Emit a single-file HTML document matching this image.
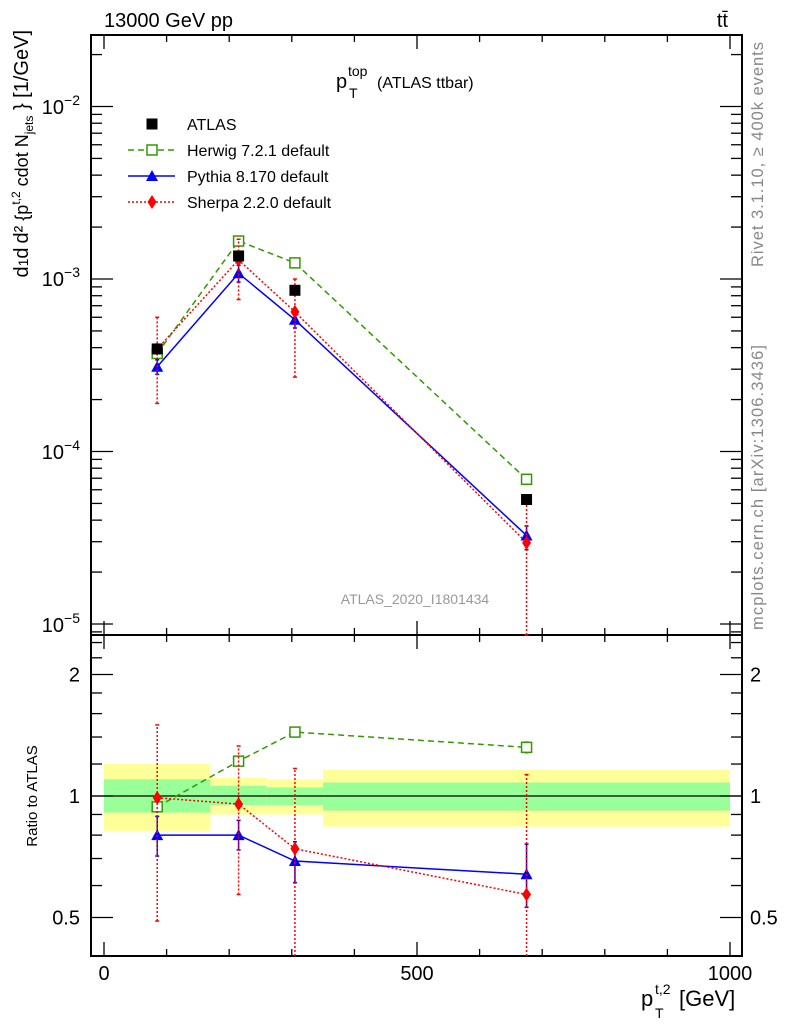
<!DOCTYPE html>
<html><head><meta charset="utf-8"><style>
body{margin:0;background:#fff;}
svg{display:block;font-family:"Liberation Sans",sans-serif;}
</style></head><body>
<svg id="c" width="786" height="1024" viewBox="0 0 786 1024">
</svg>
<script>
const xs=[85,215,305,675];
const binEdges=[0,170,260,350,1000];
const atlas=[3.93e-4,1.36e-3,8.6e-4,5.27e-5];
const herwig=[3.7e-4,1.66e-3,1.24e-3,6.9e-5];
const pythia=[3.1e-4,1.08e-3,5.8e-4,3.26e-5];
const sherpa=[3.93e-4,1.29e-3,6.45e-4,2.96e-5];
const sherpaLo=[1.9e-4,7.6e-4,2.7e-4,1e-6];
const sherpaHi=[6e-4,1.7e-3,1.0e-3,5.6e-5];
const pythiaLo=[2.8e-4,9.6e-4,5.2e-4,2.7e-5];
const pythiaHi=[3.4e-4,1.2e-3,6.4e-4,3.7e-5];
const rHerwig=[0.94,1.22,1.44,1.32];
const rPythia=[0.8,0.8,0.69,0.64];
const rSherpa=[0.99,0.955,0.74,0.57];
const rSherpaLo=[0.49,0.57,0.3,0.3];
const rSherpaHi=[1.5,1.33,1.17,1.13];
const rPythiaLo=[0.71,0.735,0.61,0.53];
const rPythiaHi=[0.89,0.87,0.77,0.76];
const rHerwigLo=[0.92,1.2,1.41,1.28];
const rHerwigHi=[0.96,1.24,1.47,1.36];
const yellowLo=[0.82,0.9,0.9,0.84];
const yellowHi=[1.2,1.11,1.1,1.16];
const greenLo=[0.91,0.95,0.95,0.92];
const greenHi=[1.1,1.06,1.05,1.08];
const xTicks=[0,500,1000];

const svg=document.getElementById('c');
const NS='http://www.w3.org/2000/svg';
function el(t,a,p){const e=document.createElementNS(NS,t);for(const k in a)e.setAttribute(k,a[k]);(p||svg).appendChild(e);return e;}
const L=91,R=742,T=35,M=635,B=956;
const X=v=>104+v*0.626;
const Y=v=>Math.min(M,Math.max(T,279-(Math.log10(v)+3)*172.5));
const YR=v=>Math.min(B,Math.max(M,796-Math.log2(v)*121.5));

for(let i=0;i<4;i++){
  const b=el('rect',{x:X(binEdges[i]),y:YR(yellowHi[i]),width:X(binEdges[i+1])-X(binEdges[i]),height:YR(yellowLo[i])-YR(yellowHi[i]),fill:'#ffff99'});
  
  
  const g=el('rect',{x:X(binEdges[i]),y:YR(greenHi[i]),width:X(binEdges[i+1])-X(binEdges[i]),height:YR(greenLo[i])-YR(greenHi[i]),fill:'#99ff99'});
  
  
}
el('line',{x1:L,x2:R,y1:YR(1),y2:YR(1),stroke:'#000','stroke-width':1.3});

el('rect',{x:L,y:T,width:R-L,height:M-T,fill:'none',stroke:'#000','stroke-width':2});
el('rect',{x:L,y:M,width:R-L,height:B-M,fill:'none',stroke:'#000','stroke-width':2});
for(let v=0;v<=1000;v+=100){const maj=v%500==0;const l=maj?14:7;
  for(const [y0,d] of [[M,-1],[T,1],[B,-1],[M,1]]) el('line',{x1:X(v),x2:X(v),y1:y0,y2:y0+d*l,stroke:'#000','stroke-width':1.3});}
for(let e=-6;e<=-2;e++){for(let m=1;m<10;m++){const v=m*Math.pow(10,e);const y=279-(Math.log10(v)+3)*172.5;if(y<T||y>M)continue;const l=m==1?22:11;
  el('line',{x1:L,x2:L+l,y1:y,y2:y,stroke:'#000','stroke-width':1.3});el('line',{x1:R,x2:R-l,y1:y,y2:y,stroke:'#000','stroke-width':1.3});}}
const rt=[0.5,0.6,0.7,0.8,0.9,1,1.2,1.4,1.6,1.8,2,2.2,2.4];
rt.forEach(v=>{const y=YR(v);const l=(v==0.5||v==1||v==2)?22:11;
  el('line',{x1:L,x2:L+l,y1:y,y2:y,stroke:'#000','stroke-width':1.3});el('line',{x1:R,x2:R-l,y1:y,y2:y,stroke:'#000','stroke-width':1.3});});

function txt(s,x,y,a,p){const t=el('text',Object.assign({x:x,y:y,'font-size':20},a||{}),p);t.textContent=s;return t;}
[[-2,107],[-3,279],[-4,452],[-5,625]].forEach(([e,y])=>{const t=el('text',{x:80,y:y+7,'font-size':20,'text-anchor':'end'});t.innerHTML='10<tspan dy="-9" font-size="14">−'+(-e)+'</tspan>';});
[[2,2],[1,1],[0.5,'0.5']].forEach(([v,s])=>{txt(String(s),80,YR(v)+7,{'text-anchor':'end'});txt(String(s),750,YR(v)+7);});
xTicks.forEach(v=>{const t=txt(String(v),X(v),980,{'text-anchor':'middle'});});

function series(vals,ys,color,dash,marker,lo,hi,name){
  const g=el('g',{});
  if(lo)for(let i=0;i<vals.length;i++){el('line',{x1:X(xs[i]),x2:X(xs[i]),y1:ys(lo[i]),y2:ys(hi[i]),stroke:color,'stroke-width':1.5,'stroke-dasharray':dash=='2,2'?'2,2':''},g);
    [lo[i],hi[i]].forEach(v=>{if(ys(v)>T+1&&ys(v)<B-1)el('line',{x1:X(xs[i])-2,x2:X(xs[i])+2,y1:ys(v),y2:ys(v),stroke:color,'stroke-width':1.5},g);});}
  if(dash!==null)el('polyline',{points:vals.map((v,i)=>X(xs[i])+','+ys(v)).join(' '),fill:'none',stroke:color,'stroke-width':1.5,'stroke-dasharray':dash},g);
  vals.forEach((v,i)=>mark(marker,X(xs[i]),ys(v),color,g));
}
function mark(m,x,y,c,g){
  if(m=='sq')el('rect',{x:x-5.5,y:y-5.5,width:11,height:11,fill:'#000'},g);
  if(m=='osq')el('rect',{x:x-5,y:y-5,width:10,height:10,fill:'#fff',stroke:c,'stroke-width':1.5},g);
  if(m=='tri')el('polygon',{points:`${x-6},${y+5} ${x+6},${y+5} ${x},${y-6}`,fill:c},g);
  if(m=='dia')el('polygon',{points:`${x},${y-7} ${x+4.5},${y} ${x},${y+7} ${x-4.5},${y}`,fill:c},g);
}
series(herwig,Y,'#339900','6,4','osq',null,null,'herwig-series');
series(pythia,Y,'#0000ff','','tri',pythiaLo,pythiaHi,'pythia-series');
series(sherpa,Y,'#ff0000','2,2','dia',sherpaLo,sherpaHi,'sherpa-series');
series(atlas,Y,'#000',null,'sq',null,null,'atlas-data');
series(rHerwig,YR,'#339900','6,4','osq',rHerwigLo,rHerwigHi,'herwig-ratio');
series(rPythia,YR,'#0000ff','','tri',rPythiaLo,rPythiaHi,'pythia-ratio');
series(rSherpa,YR,'#ff0000','2,2','dia',rSherpaLo,rSherpaHi,'sherpa-ratio');

const lg=el('g',{});
[['ATLAS','#000',null,'sq',124],['Herwig 7.2.1 default','#339900','6,4','osq',150],['Pythia 8.170 default','#0000ff','','tri',176],['Sherpa 2.2.0 default','#ff0000','2,2','dia',202]].forEach(([s,c,d,m,y])=>{
  if(d!==null)el('line',{x1:128,x2:175,y1:y,y2:y,stroke:c,'stroke-width':1.5,'stroke-dasharray':d},lg);
  mark(m,152,y,c,lg);txt(s,187,y+6,{'font-size':16},lg);});

txt('13000 GeV pp',104,27,{'font-size':20});
txt('tt̄',728,27,{'font-size':20,'text-anchor':'end'});
const tg=el('g',{});
txt('p',336,88,{'font-size':20},tg);txt('top',348,76,{'font-size':14},tg);txt('T',349,98,{'font-size':14},tg);
txt('(ATLAS ttbar)',377,88,{'font-size':16},tg);
txt('ATLAS_2020_I1801434',415,604,{'font-size':14,fill:'#999','text-anchor':'middle'});
txt('Rivet 3.1.10, ≥ 400k events',0,0,{'font-size':16.5,fill:'#888','textLength':225,'transform':'translate(763,267) rotate(-90)'});
txt('mcplots.cern.ch [arXiv:1306.3436]',0,0,{'font-size':16.5,fill:'#888','textLength':285,'transform':'translate(763,630) rotate(-90)'});
txt('Ratio to ATLAS',0,0,{'font-size':15,'text-anchor':'middle','transform':'translate(37,796) rotate(-90)'});
const xg=el('g',{});
txt('p',641,1006,{'font-size':22},xg);txt('t,2',655,994,{'font-size':14},xg);txt('T',655,1018,{'font-size':14},xg);
txt('[GeV]',679,1006,{'font-size':22},xg);
const yl=el('text',{x:0,y:0,'font-size':20,'text-anchor':'end',transform:'translate(28,30) rotate(-90)'});
yl.innerHTML='d<tspan font-size="14">1</tspan>d<tspan dx="4">d²</tspan><tspan font-size="18"> {p</tspan><tspan font-size="12" dy="-8">t,2</tspan><tspan font-size="18" dy="8"> cdot N</tspan><tspan font-size="12" dy="5">jets</tspan><tspan dy="-5"> } [1/GeV]</tspan>';

</script>
</body></html>
